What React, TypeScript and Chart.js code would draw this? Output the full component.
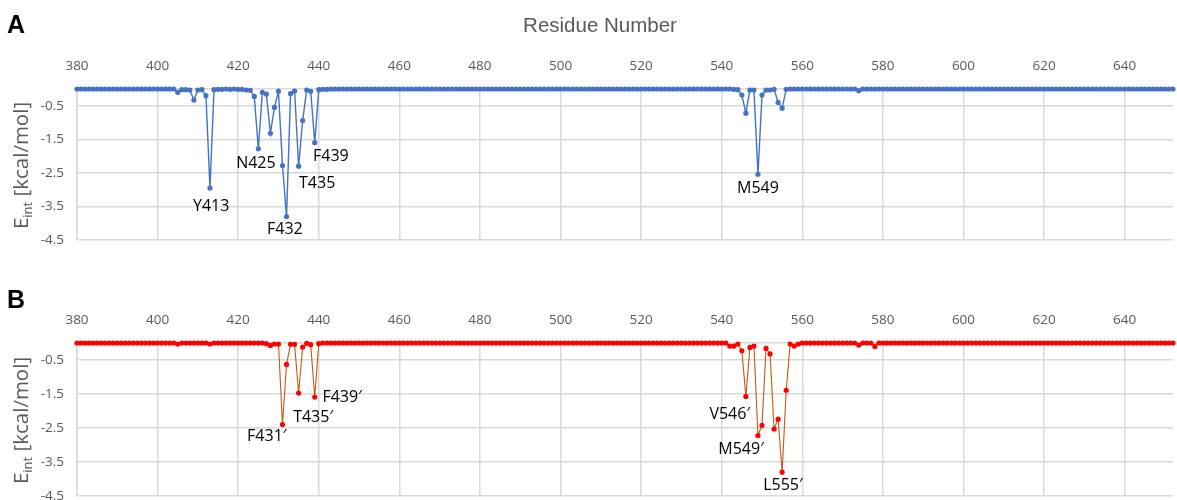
import React, { useEffect, useRef } from 'react';
import { Chart, registerables } from 'chart.js';

Chart.register(...registerables);

// ---------- data ----------
const residueStart = 380;
const residueEnd = 653;
const residues: number[] = Array.from({ length: residueEnd - residueStart + 1 }, (_, i) => residueStart + i);

const xTicks = [380, 400, 420, 440, 460, 480, 500, 520, 540, 560, 580, 600, 620, 640];
const yTicks = [-4.5, -3.5, -2.5, -1.5, -0.5];

// Panel A: interaction energy per residue (kcal/mol), residues 380..653
const energyA: number[] = [
  0, 0, 0, 0, 0, 0, 0, 0, 0, 0, // 380
  0, 0, 0, 0, 0, 0, 0, 0, 0, 0, // 390
  0, 0, 0, 0, 0, -0.1, -0.02, -0.02, -0.03, -0.33, // 400
  -0.03, -0.02, -0.2, -2.95, -0.02, -0.01, -0.01, 0, -0.01, 0, // 410
  -0.01, -0.01, -0.03, -0.04, -0.22, -1.78, -0.1, -0.15, -1.32, -0.55, // 420
  -0.07, -2.28, -3.8, -0.14, -0.06, -2.3, -0.94, -0.03, -0.07, -1.6, // 430
  -0.02, -0.01, -0.01, 0, 0, 0, 0, 0, 0, 0, // 440
  0, 0, 0, 0, 0, 0, 0, 0, 0, 0, // 450
  0, 0, 0, 0, 0, 0, 0, 0, 0, 0, // 460
  0, 0, 0, 0, 0, 0, 0, 0, 0, 0, // 470
  0, 0, 0, 0, 0, 0, 0, 0, 0, 0, // 480
  0, 0, 0, 0, 0, 0, 0, 0, 0, 0, // 490
  0, 0, 0, 0, 0, 0, 0, 0, 0, 0, // 500
  0, 0, 0, 0, 0, 0, 0, 0, 0, 0, // 510
  0, 0, 0, 0, 0, 0, 0, 0, 0, 0, // 520
  0, 0, 0, 0, 0, 0, 0, 0, 0, 0, // 530
  0, 0, 0, -0.01, -0.02, -0.18, -0.72, -0.03, -0.03, -2.54, // 540
  -0.18, -0.03, -0.03, -0.01, -0.4, -0.57, -0.01, 0, 0, 0, // 550
  0, 0, 0, 0, 0, 0, 0, 0, 0, 0, // 560
  0, 0, 0, 0, -0.05, 0, 0, 0, 0, 0, // 570
  0, 0, 0, 0, 0, 0, 0, 0, 0, 0, // 580
  0, 0, 0, 0, 0, 0, 0, 0, 0, 0, // 590
  0, 0, 0, 0, 0, 0, 0, 0, 0, 0, // 600
  0, 0, 0, 0, 0, 0, 0, 0, 0, 0, // 610
  0, 0, 0, 0, 0, 0, 0, 0, 0, 0, // 620
  0, 0, 0, 0, 0, 0, 0, 0, 0, 0, // 630
  0, 0, 0, 0, 0, 0, 0, 0, 0, 0, // 640
  0, 0, 0, 0, // 650
];

// Panel B: interaction energy per residue of the second chain (kcal/mol)
const energyB: number[] = [
  0, 0, 0, 0, 0, 0, 0, 0, 0, 0, // 380
  0, 0, 0, 0, 0, 0, 0, 0, 0, 0, // 390
  0, 0, 0, 0, 0, -0.03, 0, 0, 0, 0, // 400
  0, 0, 0, -0.03, 0, 0, 0, 0, 0, 0, // 410
  0, 0, 0, 0, 0, 0, 0, -0.02, -0.07, -0.03, // 420
  -0.03, -2.4, -0.63, -0.04, -0.04, -1.47, -0.12, -0.01, -0.05, -1.59, // 430
  -0.02, 0, 0, 0, 0, 0, 0, 0, 0, 0, // 440
  0, 0, 0, 0, 0, 0, 0, 0, 0, 0, // 450
  0, 0, 0, 0, 0, 0, 0, 0, 0, 0, // 460
  0, 0, 0, 0, 0, 0, 0, 0, 0, 0, // 470
  0, 0, 0, 0, 0, 0, 0, 0, 0, 0, // 480
  0, 0, 0, 0, 0, 0, 0, 0, 0, 0, // 490
  0, 0, 0, 0, 0, 0, 0, 0, 0, 0, // 500
  0, 0, 0, 0, 0, 0, 0, 0, 0, 0, // 510
  0, 0, 0, 0, 0, 0, 0, 0, 0, 0, // 520
  0, 0, 0, 0, 0, 0, 0, 0, 0, 0, // 530
  0, 0, -0.09, -0.09, -0.03, -0.23, -1.57, -0.13, -0.09, -2.72, // 540
  -2.42, -0.16, -0.32, -2.53, -2.24, -3.8, -1.39, -0.03, -0.09, -0.03, // 550
  0, 0, 0, 0, 0, 0, 0, 0, 0, 0, // 560
  0, 0, 0, 0, -0.06, 0, 0, 0, -0.1, 0, // 570
  0, 0, 0, 0, 0, 0, 0, 0, 0, 0, // 580
  0, 0, 0, 0, 0, 0, 0, 0, 0, 0, // 590
  0, 0, 0, 0, 0, 0, 0, 0, 0, 0, // 600
  0, 0, 0, 0, 0, 0, 0, 0, 0, 0, // 610
  0, 0, 0, 0, 0, 0, 0, 0, 0, 0, // 620
  0, 0, 0, 0, 0, 0, 0, 0, 0, 0, // 630
  0, 0, 0, 0, 0, 0, 0, 0, 0, 0, // 640
  0, 0, 0, 0, // 650
];

// residue labels, anchored in data coordinates (residue, energy)
const labelTextA = ['Y413', 'N425', 'F432', 'T435', 'F439', 'M549'];
const labelXA = [413.3, 424.4, 431.6, 439.6, 443.0, 549.0];
const labelYA = [-3.51, -2.23, -4.2, -2.8, -2.0, -2.95];

const labelTextB = ['F431\u2032', 'T435\u2032', 'F439\u2032', 'V546\u2032', 'M549\u2032', 'L555\u2032'];
const labelXB = [427.1, 438.6, 445.8, 542.0, 544.8, 555.2];
const labelYB = [-2.76, -2.18, -1.59, -2.09, -3.12, -4.2];

// ---------- styling ----------
const GRID = '#D9D9D9';
const TICK = '#595959';
const TICK_FONT = 'Open Sans';
const W = 1177;
const H = 250;

type PanelProps = {
  letter: string;
  values: number[];
  lineColor: string;
  pointColor: string;
  lineWidth: number;
  labelText: string[];
  labelX: number[];
  labelY: number[];
  axisHeight: number;
  padBottom: number;
  showTitle: boolean;
  letterY: number;
};

function Panel(p: PanelProps) {
  const ref = useRef<HTMLCanvasElement | null>(null);

  useEffect(() => {
    const canvas = ref.current;
    if (!canvas) return;

    const decor = {
      id: 'decor',
      afterDatasetsDraw(chart: any) {
        const ctx = chart.ctx as CanvasRenderingContext2D;
        const xs = chart.scales.x;
        const ys = chart.scales.y;
        ctx.save();
        // residue labels
        ctx.fillStyle = '#000000';
        ctx.font = '16px "Open Sans"';
        ctx.textAlign = 'center';
        ctx.textBaseline = 'middle';
        for (let i = 0; i < p.labelText.length; i++) {
          ctx.fillText(p.labelText[i], xs.getPixelForValue(p.labelX[i]), ys.getPixelForValue(p.labelY[i]));
        }
        // y axis title with subscript
        const ca = chart.chartArea;
        const midY = (ca.top + ca.bottom) / 2 + 1;
        ctx.translate(28, midY);
        ctx.rotate(-Math.PI / 2);
        ctx.fillStyle = TICK;
        ctx.textBaseline = 'alphabetic';
        ctx.textAlign = 'left';
        const big = '20.5px "Open Sans"';
        const small = '13px "Open Sans"';
        ctx.font = big;
        const wE = ctx.measureText('E').width;
        const rest = ' [kcal/mol]';
        const wRest = ctx.measureText(rest).width;
        ctx.font = small;
        const wSub = ctx.measureText('int').width;
        const total = wE + wSub + wRest;
        let cx = -total / 2;
        ctx.font = big;
        ctx.fillText('E', cx, 0);
        cx += wE;
        ctx.font = small;
        ctx.fillText('int', cx, 3.5);
        cx += wSub;
        ctx.font = big;
        ctx.fillText(rest, cx, 0);
        ctx.restore();

        ctx.save();
        // panel letter
        ctx.fillStyle = '#000000';
        ctx.font = 'bold 25px "Liberation Sans"';
        ctx.textAlign = 'left';
        ctx.textBaseline = 'middle';
        ctx.fillText(p.letter, 7, p.letterY);
        if (p.showTitle) {
          ctx.fillStyle = TICK;
          ctx.font = '20.5px "Liberation Sans"';
          ctx.textAlign = 'center';
          ctx.textBaseline = 'middle';
          ctx.fillText('Residue Number', 600, 26);
        }
        ctx.restore();
      },
    };

    const chart = new Chart(canvas, {
      type: 'line',
      data: {
        datasets: [
          {
            data: residues.map((r, i) => ({ x: r, y: p.values[i] })),
            borderColor: p.lineColor,
            borderWidth: p.lineWidth,
            pointBackgroundColor: p.pointColor,
            pointBorderColor: p.pointColor,
            pointBorderWidth: 0,
            pointRadius: 2.6,
            tension: 0,
            fill: false,
            clip: false as any,
          },
        ],
      },
      options: {
        animation: false,
        responsive: false,
        maintainAspectRatio: false,
        layout: { padding: { left: 0, right: 0, top: 0, bottom: p.padBottom } },
        plugins: { legend: { display: false }, tooltip: { enabled: false } },
        scales: {
          x: {
            type: 'linear',
            position: 'top',
            min: 380,
            max: 652,
            afterBuildTicks: (s: any) => {
              s.ticks = xTicks.map((v) => ({ value: v }));
            },
            afterFit: (s: any) => {
              s.height = p.axisHeight;
              s.paddingLeft = 0;
              s.paddingRight = 0;
              s.paddingTop = 0;
              s.paddingBottom = 0;
            },
            grid: { color: GRID, lineWidth: 1.5, drawTicks: false },
            border: { display: true, color: GRID, width: 1.5 },
            ticks: {
              color: TICK,
              font: { family: TICK_FONT, size: 13.5 },
              padding: 15,
              maxRotation: 0,
              autoSkip: false,
            },
          },
          y: {
            type: 'linear',
            min: -4.5,
            max: 0,
            afterBuildTicks: (s: any) => {
              s.ticks = yTicks.map((v) => ({ value: v }));
            },
            afterFit: (s: any) => {
              s.width = 77;
              s.paddingLeft = 0;
              s.paddingRight = 0;
              s.paddingTop = 0;
              s.paddingBottom = 0;
            },
            grid: { color: GRID, lineWidth: 1.5, drawTicks: false },
            border: { display: true, color: GRID, width: 1.5 },
            ticks: {
              color: TICK,
              font: { family: TICK_FONT, size: 13.5 },
              padding: 13,
              callback: (v: any) => String(v),
            },
          },
        },
      },
      plugins: [decor],
    });

    return () => chart.destroy();
  }, []);

  return <canvas ref={ref} width={W} height={H} style={{ display: 'block', width: W, height: H }} />;
}

export default function App() {
  return (
    <div style={{ position: 'absolute', left: 0, top: 0, width: W, height: 500, background: '#ffffff', overflow: 'hidden' }}>
      <Panel
        letter="A"
        values={energyA}
        lineColor="#4472C4"
        pointColor="#4472C4"
        lineWidth={1.4}
        labelText={labelTextA}
        labelX={labelXA}
        labelY={labelYA}
        axisHeight={89}
        padBottom={10}
        showTitle={true}
        letterY={26}
      />
      <Panel
        letter="B"
        values={energyB}
        lineColor="#C55A11"
        pointColor="#FF0000"
        lineWidth={1.1}
        labelText={labelTextB}
        labelX={labelXB}
        labelY={labelYB}
        axisHeight={93}
        padBottom={3}
        showTitle={false}
        letterY={51}
      />
    </div>
  );
}
